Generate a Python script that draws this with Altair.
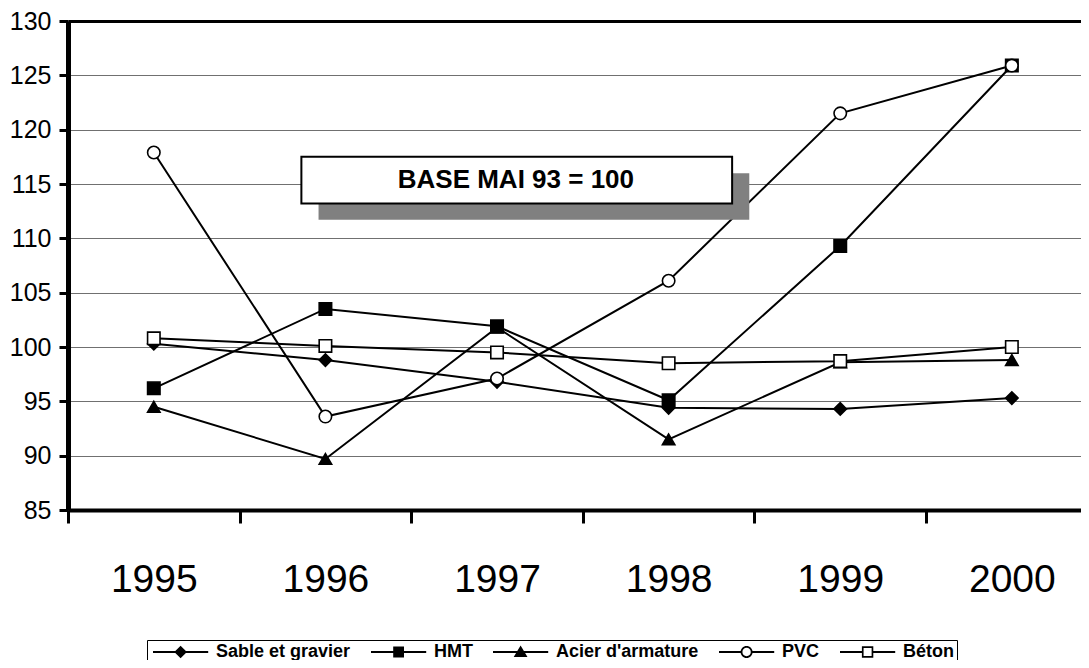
import altair as alt
import pandas as pd

# ---- data ----
years = [1995, 1996, 1997, 1998, 1999, 2000]
series_names = ["Sable et gravier", "HMT", "Acier d'armature", "PVC", "Béton"]
sable = [100.3, 98.8, 96.8, 94.4, 94.3, 95.3]
hmt = [96.2, 103.5, 101.9, 95.1, 109.3, 125.9]
acier = [94.5, 89.7, 101.8, 91.5, 98.6, 98.8]
pvc = [117.9, 93.6, 97.1, 106.1, 121.5, 125.9]
beton = [100.8, 100.1, 99.5, 98.5, 98.7, 100.0]

y_ticks = [85, 90, 95, 100, 105, 110, 115, 120, 125, 130]
x_boundaries = [1994.5, 1995.5, 1996.5, 1997.5, 1998.5, 1999.5]

annotation_text = "BASE MAI 93 = 100"
box_x = [1995.86, 1998.37]
box_y = [117.5, 113.2]
shadow_x = [1995.96, 1998.47]
shadow_y = [116.0, 111.7]
text_pos = [1997.11, 115.35]

# draw order (Acier below HMT)
draw_order = ["Sable et gravier", "Acier d'armature", "HMT", "PVC", "Béton"]
values = {"Sable et gravier": sable, "HMT": hmt, "Acier d'armature": acier,
          "PVC": pvc, "Béton": beton}
rows = []
for k, s in enumerate(draw_order):
    for y, v in zip(years, values[s]):
        rows.append({"series": s, "year": y, "value": v, "ord": k})
df = pd.DataFrame(rows)

FONT = "Liberation Sans"
shape_std = {"Sable et gravier": "diamond", "HMT": "square", "Acier d'armature": "triangle-up",
             "PVC": "circle", "Béton": "square"}
fill_std = {"Sable et gravier": "black", "HMT": "black", "Acier d'armature": "black",
            "PVC": "white", "Béton": "white"}

# legend symbols drawn as filled black paths (unit = 6px);
# marker centred at +3.6 units, line from -1 to 8.2 units; open markers are rings
LINE_L = "M-1,-0.17H8.2V0.17H-1Z"
shape_legend = [
    LINE_L + "M3.6,-1.05L4.65,0L3.6,1.05L2.55,0Z",
    LINE_L + "M2.7,-0.9H4.5V0.9H2.7Z",
    LINE_L + "M3.6,-1.1L4.75,0.85H2.45Z",
    "M-1,-0.17H2.7V0.17H-1Z M4.5,-0.17H8.2V0.17H4.5Z "
    "M2.6,0A1 1 0 0 1 4.6,0A1 1 0 0 1 2.6,0Z M2.9,0A0.7 0.7 0 0 0 4.3,0A0.7 0.7 0 0 0 2.9,0Z",
    "M-1,-0.17H2.75V0.17H-1Z M4.45,-0.17H8.2V0.17H4.45Z "
    "M2.65,-0.95H4.55V0.95H2.65Z M2.93,-0.67V0.67H4.27V-0.67Z",
]

x_dom = [1994.5, 2000.403]
x_values = sorted(x_boundaries + years)

x_enc = alt.X(
    "year:Q",
    scale=alt.Scale(domain=x_dom, nice=False, zero=False),
    axis=alt.Axis(
        values=x_values, title=None, grid=False,
        domainColor="black", domainWidth=4,
        tickColor="black", tickWidth=3, tickSize=13,
        tickOpacity={"condition": {"test": "datum.value % 1 !== 0", "value": 1}, "value": 0},
        labelExpr="datum.value % 1 === 0 ? '' + datum.value : ''",
        labelFontSize=39, labelFont=FONT, labelColor="black",
        labelPadding=37, labelOverlap=False, labelFlush=False,
    ),
)
y_enc = alt.Y(
    "value:Q",
    scale=alt.Scale(domain=[85, 130], nice=False, zero=False),
    axis=alt.Axis(
        values=y_ticks, title=None, grid=True,
        gridColor={"condition": {"test": "datum.value === 130", "value": "black"}, "value": "#707070"},
        gridWidth={"condition": {"test": "datum.value === 130", "value": 3}, "value": 1},
        domainColor="black", domainWidth=5,
        tickColor="black", tickWidth=3, tickSize=9,
        labelFontSize=25, labelFont=FONT, labelColor="black", labelPadding=8,
    ),
)

base = alt.Chart(df)

lines = base.mark_line(color="black", strokeWidth=2).encode(
    x=x_enc, y=y_enc, detail="series:N", order="year:Q"
)

point_layers = []
for s in draw_order:
    point_layers.append(
        base.transform_filter(alt.datum.series == s).mark_point(
            shape=shape_std[s], fill=fill_std[s], filled=False, stroke="black",
            strokeWidth=1.6, size=155, opacity=1, fillOpacity=1,
        ).encode(x="year:Q", y="value:Q")
    )

legend_layer = base.transform_filter("false").mark_point(
    filled=True, color="black", opacity=1, size=144
).encode(
    x="year:Q", y="value:Q",
    shape=alt.Shape("series:N", scale=alt.Scale(domain=series_names, range=shape_legend),
                    legend=alt.Legend(
                        title=None, orient="none", legendX=79, legendY=619,
                        direction="horizontal", columns=5,
                        labelFont=FONT, labelFontWeight="bold", labelFontSize=18,
                        labelColor="black", labelOffset=48, columnPadding=17,
                        symbolSize=144, symbolFillColor="black", symbolStrokeWidth=0,
                        symbolOpacity=1,
                        strokeColor="black", padding=3, cornerRadius=0,
                    )),
)

ann_df = pd.DataFrame([{
    "bx1": box_x[0], "bx2": box_x[1], "by1": box_y[0], "by2": box_y[1],
    "sx1": shadow_x[0], "sx2": shadow_x[1], "sy1": shadow_y[0], "sy2": shadow_y[1],
    "tx": text_pos[0], "ty": text_pos[1], "label": annotation_text,
}])
ann = alt.Chart(ann_df)
shadow = ann.mark_rect(color="#808080").encode(x="sx1:Q", x2="sx2:Q", y="sy1:Q", y2="sy2:Q")
box = ann.mark_rect(fill="white", stroke="black", strokeWidth=2).encode(
    x="bx1:Q", x2="bx2:Q", y="by1:Q", y2="by2:Q")
txt = ann.mark_text(font=FONT, fontWeight="bold", fontSize=26, color="black",
                    align="center", baseline="middle").encode(
    x="tx:Q", y="ty:Q", text="label:N")

chart = alt.layer(lines, *point_layers, legend_layer, shadow, box, txt).properties(
    width=1013, height=489,
    autosize="none",
    padding={"left": 60, "top": 13, "right": 0, "bottom": 150},
).configure_view(stroke=None).configure(background="white")

chart.save("out.html", embed_options={"renderer": "svg", "actions": False})
